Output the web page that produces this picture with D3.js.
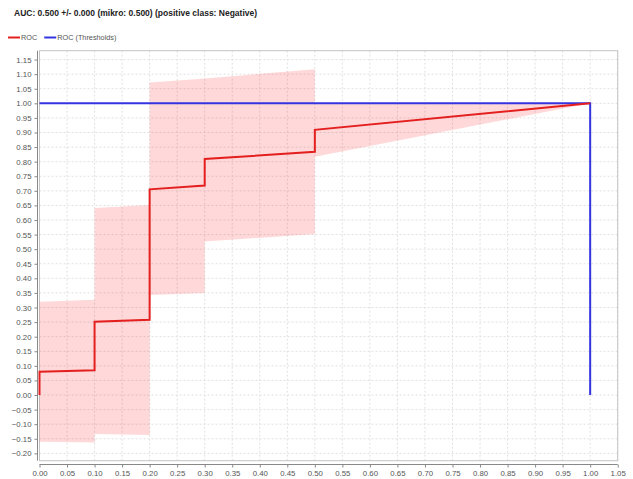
<!DOCTYPE html>
<html>
<head>
<meta charset="utf-8">
<script src="https://cdn.jsdelivr.net/npm/d3@7/dist/d3.min.js"></script>
<style>
  body { margin: 0; background: #fff; }
  svg { display: block; font-family: "Liberation Sans", Arial, sans-serif; }
</style>
</head>
<body>
<svg id="chart" width="633" height="479"></svg>
<script>
// ROC curve (mean), step-wise
var rocX = [0, 0, 0.1, 0.1, 0.2, 0.2, 0.3, 0.3, 0.5, 0.5, 1.0];
var rocY = [0, 0.080, 0.085, 0.251, 0.258, 0.705, 0.718, 0.809, 0.834, 0.909, 1.0];

// std deviation band around the ROC
var bandX    = [0, 0.1, 0.1, 0.2, 0.2, 0.3, 0.3, 0.5, 0.5, 1.0];
var bandHigh = [0.320, 0.327, 0.641, 0.651, 1.071, 1.085, 1.085, 1.117, 1.0, 1.0];
var bandLow  = [-0.160, -0.163, -0.134, -0.137, 0.343, 0.350, 0.526, 0.552, 0.817, 1.0];

// thresholds line
var thrX = [0, 1, 1];
var thrY = [1, 1, 0];

var xTicks = d3.range(0, 21 + 1).map(function (i) { return i * 0.05; });
var yTicks = d3.range(-4, 23 + 1).map(function (i) { return i * 0.05; });

var titleText = "AUC: 0.500 +/- 0.000 (mikro: 0.500) (positive class: Negative)";
var legendItems = [
  { label: "ROC", color: "#e3201f" },
  { label: "ROC (Thresholds)", color: "#3434e0" }
];

var svg = d3.select("#chart");
// careful: "top" is a reserved window property
var pLeft = 39.5, pRight = 617.7, pTop = 50.7, pBottom = 460.7;

var x = d3.scaleLinear().domain([0, 1.05]).range([pLeft, pRight]);
var y = d3.scaleLinear().domain([-0.2252, 1.1804]).range([pBottom, pTop]);

// title
svg.append("text")
  .attr("x", 14).attr("y", 16)
  .attr("font-size", "8.5px").attr("font-weight", "bold").attr("fill", "#222")
  .text(titleText);

// legend
var lx = 8;
legendItems.forEach(function (item) {
  svg.append("line")
    .attr("x1", lx).attr("x2", lx + 12).attr("y1", 37.5).attr("y2", 37.5)
    .attr("stroke", item.color).attr("stroke-width", 2);
  var t = svg.append("text")
    .attr("x", lx + 13).attr("y", 40.2)
    .attr("font-size", "7.3px").attr("fill", "#555")
    .text(item.label);
  lx += 13 + t.node().getComputedTextLength() + 7;
});

// grid
var grid = svg.append("g");
grid.selectAll("line.vx").data(xTicks).enter().append("line")
  .attr("x1", function (d) { return x(d); }).attr("x2", function (d) { return x(d); })
  .attr("y1", pTop).attr("y2", pBottom)
  .attr("stroke", "#e0e0e0").attr("stroke-width", 1).attr("stroke-dasharray", "2,2");
grid.selectAll("line.hy").data(yTicks).enter().append("line")
  .attr("x1", pLeft).attr("x2", pRight)
  .attr("y1", function (d) { return y(d); }).attr("y2", function (d) { return y(d); })
  .attr("stroke", "#e0e0e0").attr("stroke-width", 1).attr("stroke-dasharray", "2,2");

// plot border
svg.append("rect")
  .attr("x", pLeft).attr("y", pTop).attr("width", pRight - pLeft).attr("height", pBottom - pTop)
  .attr("fill", "none").attr("stroke", "#c4c4c4").attr("stroke-width", 1);

// band
var bandData = bandX.map(function (v, i) { return { x: v, lo: bandLow[i], hi: bandHigh[i] }; });
svg.append("path")
  .datum(bandData)
  .attr("fill", "rgb(255, 0, 0)").attr("fill-opacity", 0.15)
  .attr("d", d3.area()
    .x(function (d) { return x(d.x); })
    .y0(function (d) { return y(d.lo); })
    .y1(function (d) { return y(d.hi); }));

var line = d3.line()
  .x(function (d) { return x(d[0]); })
  .y(function (d) { return y(d[1]); });

svg.append("path")
  .datum(thrX.map(function (v, i) { return [v, thrY[i]]; }))
  .attr("fill", "none").attr("stroke", legendItems[1].color).attr("stroke-width", 2)
  .attr("d", line);

svg.append("path")
  .datum(rocX.map(function (v, i) { return [v, rocY[i]]; }))
  .attr("fill", "none").attr("stroke", legendItems[0].color).attr("stroke-width", 2)
  .attr("d", line);

// axes
var xAxis = d3.axisBottom(x).tickValues(xTicks).tickSize(3).tickPadding(3)
  .tickFormat(d3.format(".2f"));
var yAxis = d3.axisLeft(y).tickValues(yTicks).tickSize(3).tickPadding(3)
  .tickFormat(d3.format(".2f"));

var gx = svg.append("g").attr("transform", "translate(0," + 464.5 + ")").call(xAxis);
var gy = svg.append("g").attr("transform", "translate(" + 37.5 + ",0)").call(yAxis);

[gx, gy].forEach(function (g) {
  g.select(".domain").attr("stroke", "#888");
  g.selectAll(".tick line").attr("stroke", "#888");
  g.selectAll(".tick text").attr("fill", "#555").attr("font-size", "7.8px")
    .attr("font-family", "'Liberation Sans', Arial, sans-serif");
});
gx.select(".domain").attr("d", "M" + pLeft + ",0H" + pRight);
gy.select(".domain").attr("d", "M0," + pTop + "V" + pBottom);
</script>
</body>
</html>
